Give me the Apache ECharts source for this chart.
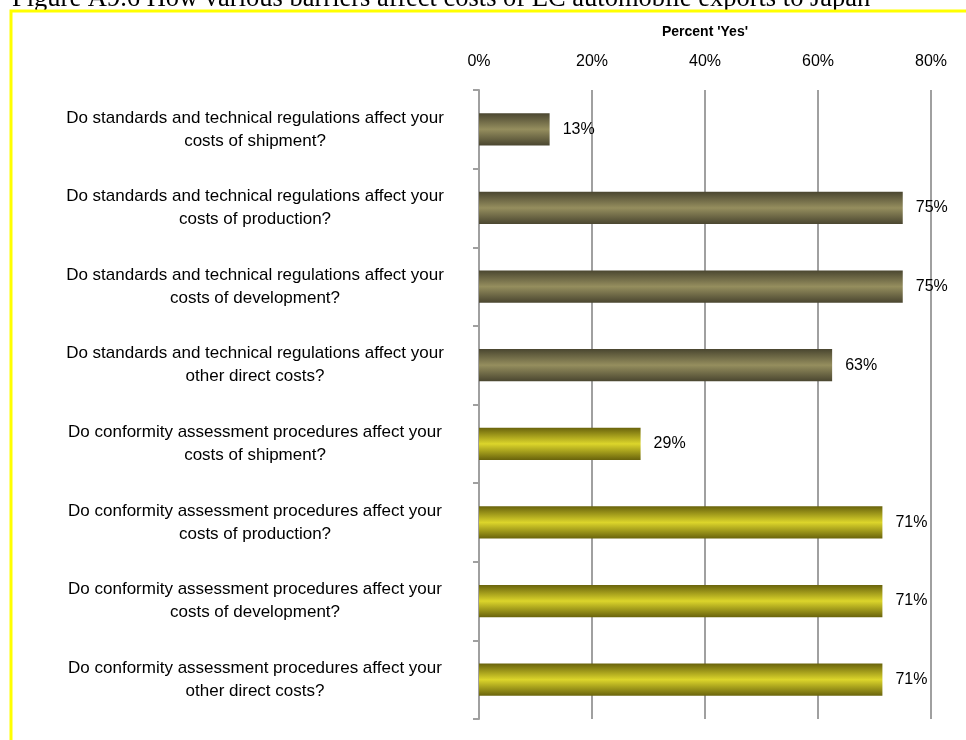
<!DOCTYPE html>
<html>
<head>
<meta charset="utf-8">
<script src="https://cdn.jsdelivr.net/npm/echarts@6/dist/echarts.min.js"></script>
<style>
html,body{margin:0;padding:0;background:#fff;}
#chart{width:966px;height:740px;}
</style>
</head>
<body>
<div id="chart"></div>
<script>
const titleText = "Figure A9.6 How various barriers affect costs of EC automobile exports to Japan";
const axisName = "Percent 'Yes'";
const categories = [
  "Do standards and technical regulations affect your\ncosts of shipment?",
  "Do standards and technical regulations affect your\ncosts of production?",
  "Do standards and technical regulations affect your\ncosts of development?",
  "Do standards and technical regulations affect your\nother direct costs?",
  "Do conformity assessment procedures affect your\ncosts of shipment?",
  "Do conformity assessment procedures affect your\ncosts of production?",
  "Do conformity assessment procedures affect your\ncosts of development?",
  "Do conformity assessment procedures affect your\nother direct costs?"
];
const values = [12.5, 75, 75, 62.5, 28.6, 71.4, 71.4, 71.4];
const groups = [0, 0, 0, 0, 1, 1, 1, 1];
const xTicks = [0, 20, 40, 60, 80];

const palettes = [
  ['#4a4630', '#958e5e', '#4a4630'],
  ['#69630c', '#dcd52b', '#69630c']
];
function grad(p) {
  return new echarts.graphic.LinearGradient(0, 0, 0, 1, [
    {offset: 0, color: p[0]},
    {offset: 0.5, color: p[1]},
    {offset: 1, color: p[2]}
  ]);
}
const FONT = "'Liberation Sans', Arial, sans-serif";

const chart = echarts.init(document.getElementById('chart'));
chart.setOption({
  animation: false,
  backgroundColor: '#fff',
  graphic: [
    {
      type: 'rect', z: 100,
      shape: {x: 11, y: 11, width: 1200, height: 1000},
      style: {fill: 'none', stroke: '#ffff00', lineWidth: 3}
    },
    {
      type: 'text', z: 99,
      style: {x: 12, y: 13, text: titleText, font: "26.5px 'Liberation Serif', 'Times New Roman', serif", fill: '#000', verticalAlign: 'bottom'}
    }
  ],
  grid: {left: 479, right: 35, top: 90, bottom: 21, containLabel: false},
  xAxis: {
    type: 'value', position: 'top',
    min: xTicks[0], max: xTicks[xTicks.length - 1], interval: 20,
    name: axisName, nameLocation: 'middle', nameGap: 51,
    nameTextStyle: {fontFamily: FONT, fontWeight: 'bold', fontSize: 14, color: '#000'},
    axisLine: {show: false}, axisTick: {show: false},
    axisLabel: {formatter: '{value}%', fontFamily: FONT, fontSize: 16, color: '#000', margin: 20},
    splitLine: {show: true, lineStyle: {color: '#a0a0a0', width: 2}}
  },
  yAxis: {
    type: 'category', inverse: true, data: categories,
    axisLine: {show: true, lineStyle: {color: '#a0a0a0', width: 2}},
    axisTick: {show: true, length: 6, lineStyle: {color: '#a0a0a0', width: 2}},
    axisLabel: {fontFamily: FONT, fontSize: 17, color: '#000', align: 'center', margin: 224, lineHeight: 23}
  },
  series: [{
    type: 'bar',
    barWidth: '41%',
    data: values.map((v, i) => ({value: v, itemStyle: {color: grad(palettes[groups[i]])}})),
    label: {
      show: true, position: 'right', distance: 13,
      formatter: p => Math.round(p.value) + '%',
      fontFamily: FONT, fontSize: 16, color: '#000'
    }
  }]
});
</script>
</body>
</html>
